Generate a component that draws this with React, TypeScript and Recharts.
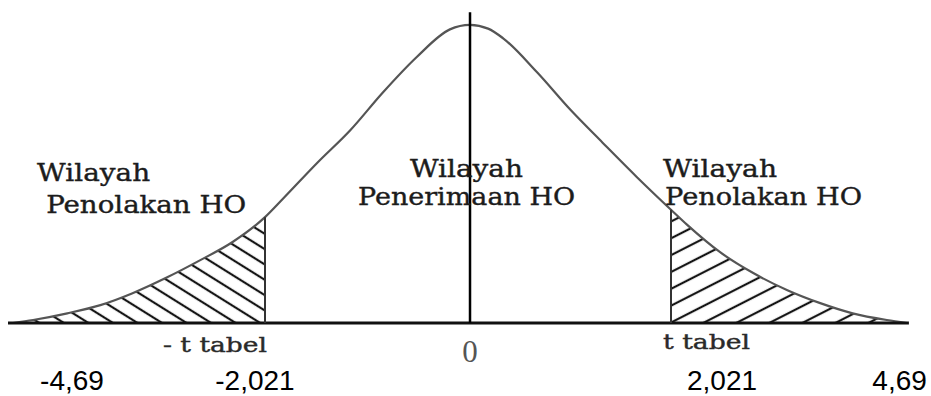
import React from 'react';
import {
  ComposedChart,
  Line,
  Area,
  XAxis,
  YAxis,
  ReferenceLine,
  ReferenceDot,
} from 'recharts';

// curve (t on x, relative height on y)
const tValues = [
  -4.53, -4.33, -3.99, -3.66, -3.34, -3.0, -2.67, -2.34, -2.021, -1.84, -1.5, -1.17, -0.85, -0.51, -0.18, 0.02,
  0.2, 0.35, 0.69, 1.02, 1.34, 1.68, 2.021, 2.18, 2.51, 2.84, 3.18, 3.5, 3.83, 4.17, 4.37,
];
const density = [
  0, 0.004, 0.013, 0.024, 0.04, 0.061, 0.084, 0.109, 0.142, 0.167, 0.215, 0.259, 0.309, 0.357, 0.394, 0.4,
  0.395, 0.382, 0.336, 0.286, 0.242, 0.196, 0.152, 0.132, 0.095, 0.067, 0.044, 0.027, 0.013, 0.004, 0,
];
const tTable = 2.021;
const leftCutHeight = 0.142;
const rightCutHeight = 0.152;
const baselineFrom = -4.58;
const baselineTo = 4.39;
const centerLineTop = 0.417;

const valueLabels = ['-4,69', '-2,021', '2,021', '4,69'];
const regionTitle = 'Wilayah';
const rejectLabel = 'Penolakan HO';
const acceptLabel = 'Penerimaan HO';

const rows = tValues.map((t, i) => ({
  t,
  y: density[i],
  left: t <= -tTable ? density[i] : null,
  right: t >= tTable ? density[i] : null,
}));

const serif = "'DejaVu Serif', serif";
const sans = "'Liberation Sans', Arial, sans-serif";

type Note = {
  x: number;
  y: number;
  text: string;
  font: string;
  size: number;
  anchor: 'start' | 'middle';
  len?: number;
  color: string;
  heavy?: boolean;
};

const notes: Note[] = [
  { x: -4.29, y: 0.191, text: regionTitle, font: serif, size: 25, anchor: 'start', len: 113, color: '#1c1c1c', heavy: true },
  { x: -4.2, y: 0.148, text: rejectLabel, font: serif, size: 25, anchor: 'start', len: 200, color: '#1c1c1c', heavy: true },
  { x: -0.578, y: 0.196, text: regionTitle, font: serif, size: 25, anchor: 'start', len: 113, color: '#1c1c1c', heavy: true },
  { x: -1.095, y: 0.158, text: acceptLabel, font: serif, size: 25, anchor: 'start', len: 217, color: '#1c1c1c', heavy: true },
  { x: 1.942, y: 0.196, text: regionTitle, font: serif, size: 25, anchor: 'start', len: 114, color: '#1c1c1c', heavy: true },
  { x: 1.962, y: 0.158, text: rejectLabel, font: serif, size: 25, anchor: 'start', len: 197, color: '#1c1c1c', heavy: true },
  { x: -3.037, y: -0.039, text: '- t tabel', font: serif, size: 20, anchor: 'start', len: 104, color: '#2a2a2a', heavy: true },
  { x: 1.942, y: -0.035, text: 't tabel', font: serif, size: 20, anchor: 'start', len: 87, color: '#2a2a2a', heavy: true },
  { x: 0.02, y: -0.052, text: '0', font: "'Liberation Serif', serif", size: 31, anchor: 'middle', color: '#555' },
  { x: -3.943, y: -0.09, text: valueLabels[0], font: sans, size: 28, anchor: 'middle', color: '#000' },
  { x: -2.121, y: -0.09, text: valueLabels[1], font: sans, size: 28, anchor: 'middle', color: '#000' },
  { x: 2.529, y: -0.09, text: valueLabels[2], font: sans, size: 28, anchor: 'middle', color: '#000' },
  { x: 4.297, y: -0.09, text: valueLabels[3], font: sans, size: 28, anchor: 'middle', color: '#000' },
];

function noteShape(n: Note) {
  return (p: any) => ( // eslint-disable-line @typescript-eslint/no-explicit-any
    <text
      x={p.cx}
      y={p.cy}
      textAnchor={n.anchor}
      style={{ fontFamily: n.font, fontSize: n.size }}
      fill={n.color}
      stroke={n.heavy ? n.color : undefined}
      strokeWidth={n.heavy ? 0.4 : undefined}
      textLength={n.len}
      lengthAdjust={n.len ? 'spacingAndGlyphs' : undefined}
    >
      {n.text}
    </text>
  );
}

export default function App() {
  return (
    <div style={{ position: 'absolute', left: 0, top: 0, width: 931, height: 396, background: '#fff' }}>
      <ComposedChart width={931} height={396} data={rows} margin={{ top: 10, right: 1, bottom: 73, left: 6 }}>
        <defs>
          <pattern id="hatchL" patternUnits="userSpaceOnUse" width="12" height="13" patternTransform="rotate(32)">
            <line x1="0" y1="6" x2="12" y2="6" stroke="#151515" strokeWidth="2.2" />
          </pattern>
          <pattern id="hatchR" patternUnits="userSpaceOnUse" width="12" height="15" patternTransform="rotate(-27)">
            <line x1="0" y1="7" x2="12" y2="7" stroke="#151515" strokeWidth="2.2" />
          </pattern>
        </defs>
        <XAxis type="number" dataKey="t" domain={[-4.6, 4.6]} hide />
        <YAxis type="number" domain={[0, 0.42]} hide />
        <Area
          dataKey="left"
          type="monotone"
          stroke="none"
          fill="url(#hatchL)"
          fillOpacity={1}
          baseValue={0}
          isAnimationActive={false}
        />
        <Area
          dataKey="right"
          type="monotone"
          stroke="none"
          fill="url(#hatchR)"
          fillOpacity={1}
          baseValue={0}
          isAnimationActive={false}
        />
        <Line dataKey="y" type="monotone" stroke="#555" strokeWidth={2.2} dot={false} isAnimationActive={false} />
        <ReferenceLine
          segment={[{ x: baselineFrom, y: 0 }, { x: baselineTo, y: 0 }]}
          stroke="#111"
          strokeWidth={3}
          ifOverflow="visible"
        />
        <ReferenceLine
          segment={[{ x: 0.02, y: 0 }, { x: 0.02, y: centerLineTop }]}
          stroke="#000"
          strokeWidth={2.5}
          ifOverflow="visible"
        />
        <ReferenceLine
          segment={[{ x: -tTable, y: 0 }, { x: -tTable, y: leftCutHeight }]}
          stroke="#333"
          strokeWidth={2}
        />
        <ReferenceLine
          segment={[{ x: tTable, y: 0 }, { x: tTable, y: rightCutHeight }]}
          stroke="#333"
          strokeWidth={2}
        />
        {notes.map((n, i) => (
          <ReferenceDot key={i} x={n.x} y={n.y} r={0} ifOverflow="visible" shape={noteShape(n)} />
        ))}
      </ComposedChart>
    </div>
  );
}
